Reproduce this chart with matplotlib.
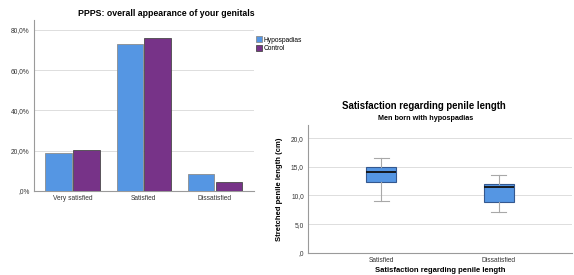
import matplotlib
matplotlib.use('Agg')
from matplotlib import pyplot as plt
from matplotlib.ticker import FuncFormatter

plt.rcParams['font.family'] = ['Liberation Sans', 'DejaVu Sans']

# bar chart data (percent)
categories = ['Very satisfied', 'Satisfied', 'Dissatisfied']
hypo_pct = [18.7, 72.9, 8.5]
control_pct = [20.1, 76.2, 4.1]
series_names = ['Hypospadias', 'Control']

# box plot data (cm)
box_labels = ['Satisfied', 'Dissatisfied']
box_lo = [9.0, 7.05]
box_q1 = [12.3, 8.8]
box_med = [14.05, 11.55]
box_q3 = [15.0, 11.95]
box_hi = [16.5, 13.5]

blue = '#5596e3'
purple = '#773388'
grid_c = '#dddddd'
spine_c = '#9a9a9a'


def spss_fmt(v, suffix=''):
    s = '%.1f' % v
    s = s.replace('.', ',')
    if s.startswith('0,'):
        s = s[1:]
    return s + suffix


fig = plt.figure(figsize=(5.74, 2.75), dpi=100)

# left: grouped bars
ax1 = fig.add_axes([34 / 574, 1 - 190.7 / 275, 220 / 574, 170.7 / 275])
x = list(range(len(categories)))
w = 0.37
ax1.bar([i - 0.195 for i in x], hypo_pct, width=w, color=blue,
        edgecolor='#8c8c8c', linewidth=0.6, label=series_names[0], zorder=3)
ax1.bar([i + 0.195 for i in x], control_pct, width=w, color=purple,
        edgecolor='#4a4a4a', linewidth=0.6, label=series_names[1], zorder=3)
ax1.set_xlim(-0.54, 2.55)
ax1.set_ylim(0, 85)
ax1.set_yticks([0, 20, 40, 60, 80])
ax1.yaxis.set_major_formatter(FuncFormatter(lambda v, p: spss_fmt(v, '%')))
ax1.set_xticks(x)
ax1.set_xticklabels(categories)
ax1.grid(axis='y', color=grid_c, linewidth=0.7, zorder=0)
ax1.tick_params(length=0, labelsize=4.8, pad=3, colors='#333333')
for s in ['top', 'right']:
    ax1.spines[s].set_visible(False)
for s in ['left', 'bottom']:
    ax1.spines[s].set_color(spine_c)
    ax1.spines[s].set_linewidth(0.8)
fig.text(166 / 574, 1 - 14 / 275, 'PPPS: overall appearance of your genitals',
         ha='center', va='center', fontsize=6.3, fontweight='bold')
leg = ax1.legend(loc='upper left', bbox_to_anchor=(0.995, 0.92), frameon=False,
                 fontsize=4.8, handlelength=1.0, handleheight=1.0,
                 handletextpad=0.2, labelspacing=0.15, borderaxespad=0)

# right: box plot
ax2 = fig.add_axes([308 / 574, 1 - 252.7 / 275, 264 / 574, 127.7 / 275])
stats = []
for i in range(len(box_labels)):
    stats.append({'label': box_labels[i], 'whislo': box_lo[i], 'q1': box_q1[i],
                  'med': box_med[i], 'q3': box_q3[i], 'whishi': box_hi[i],
                  'fliers': []})
ax2.bxp(stats, positions=[1, 2], widths=0.25, patch_artist=True,
        showfliers=False,
        boxprops=dict(facecolor=blue, edgecolor='#34588f', linewidth=0.8),
        medianprops=dict(color='#111111', linewidth=1.3),
        whiskerprops=dict(color='#a8a8a8', linewidth=0.8),
        capprops=dict(color='#a8a8a8', linewidth=0.8), capwidths=0.127,
        zorder=3)
ax2.set_xlim(0.38, 2.62)
ax2.set_ylim(0, 22.3)
ax2.set_yticks([0, 5, 10, 15, 20])
ax2.yaxis.set_major_formatter(FuncFormatter(lambda v, p: spss_fmt(v)))
ax2.grid(axis='y', color=grid_c, linewidth=0.7, zorder=0)
ax2.tick_params(length=0, labelsize=4.8, pad=3, colors='#333333')
for s in ['top', 'right']:
    ax2.spines[s].set_visible(False)
for s in ['left', 'bottom']:
    ax2.spines[s].set_color(spine_c)
    ax2.spines[s].set_linewidth(0.8)
ax2.set_ylabel('Stretched penile length (cm)', fontsize=5.5, fontweight='bold',
               labelpad=6)
ax2.set_xlabel('Satisfaction regarding penile length', fontsize=5.5,
               fontweight='bold', labelpad=2.5)
fig.text(424 / 574, 1 - 106 / 275, 'Satisfaction regarding penile length',
         ha='center', va='center', fontsize=6.9, fontweight='bold')
fig.text(426 / 574, 1 - 119 / 275, 'Men born with hypospadias',
         ha='center', va='center', fontsize=5.2, fontweight='bold')

fig.savefig('out.png', dpi=100)
